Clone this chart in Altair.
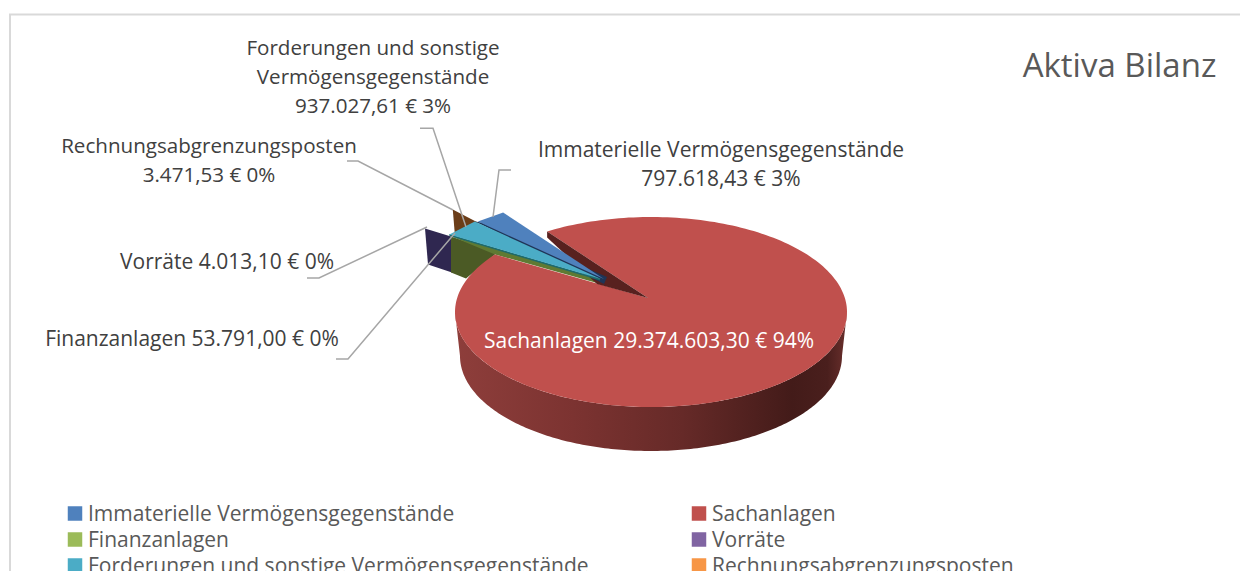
import math
import altair as alt
import pandas as pd

# --- values ---------------------------------------------------------------
CATEGORIES = ["Immaterielle Vermögensgegenstände", "Sachanlagen", "Finanzanlagen",
              "Vorräte", "Forderungen und sonstige Vermögensgegenstände",
              "Rechnungsabgrenzungsposten"]
VALUES = [797618.43, 29374603.30, 53791.00, 4013.10, 937027.61, 3471.53]
COLORS = ["#4f81bd", "#c0504d", "#9bbb59", "#8064a2", "#4bacc6", "#f79646"]
TITLE = "Aktiva Bilanz"

TOTAL = sum(VALUES)


def de(v):
    return f"{v:,.2f}".replace(",", "X").replace(".", ",").replace("X", ".")


def tail(i):
    return f"{de(VALUES[i])} € {round(100 * VALUES[i] / TOTAL)}%"


# --- 3-D pie geometry: slice angles come from the values -------------------
CX, CY, RX, RY = 651.0, 312.0, 196.0, 95.0
BX, BY, BRX, BRY = 651.0, 356.0, 191.0, 95.0
APEX = (648.0, 298.0)
START = 58.0 - 360 * VALUES[0] / TOTAL
EXPL = (-47.0, -19.0)

bounds = [START]
for v in VALUES:
    bounds.append(bounds[-1] + 360 * v / TOTAL)


def rim(t, dx=0.0, dy=0.0):
    a = math.radians(t)
    return (CX - RX * math.cos(a) + dx, CY - RY * math.sin(a) + dy)


def wedge(i, dx, dy):
    return [(APEX[0] + dx, APEX[1] + dy), rim(bounds[i], dx, dy), rim(bounds[i + 1], dx, dy)]


def feature(points, color):
    ring = [list(p) for p in points] + [list(points[0])]
    return {"type": "Feature", "geometry": {"type": "Polygon", "coordinates": [ring]},
            "properties": {"color": color}}


A = rim(bounds[1])
B = rim(bounds[2])
gc = rim(bounds[2], *EXPL)     # outer corner of the small slices
cl = rim(bounds[4], *EXPL)     # lower corner of the cyan slice
cc = rim(bounds[5], *EXPL)
ap = (APEX[0] + EXPL[0], APEX[1] + EXPL[1])

back = [
    # purple outer wall
    feature([(gc[0] + 3, gc[1] + 1), (gc[0] - 23, gc[1] - 7), (gc[0] - 20, gc[1] + 29), (gc[0] + 4, gc[1] + 37)], "#2f2750"),
    # green wall
    feature([(gc[0] + 3, gc[1] + 1), (gc[0] + 44, gc[1] + 15), B, (gc[0] + 18, gc[1] + 43), (gc[0] + 3, gc[1] + 37)], "#4b5a25"),
    # olive band between the cyan slice and the red cut
    feature([(cl[0], cl[1] + 1), ap, (APEX[0] - 51, APEX[1] - 15), B], "#5f7a33"),
    # brown wall
    feature([(cc[0] + 3, cc[1] + 1), (cc[0] - 22, cc[1] - 12), (cc[0] - 20, cc[1] + 12)], "#6b3d18"),
]

side_pts = []
for k in range(0, 181):
    a = math.radians(k)
    side_pts.append((CX - RX * math.cos(a), CY + RY * math.sin(a)))
for k in range(180, -1, -1):
    a = math.radians(k)
    side_pts.append((BX - BRX * math.cos(a), BY + BRY * math.sin(a)))
side = [feature(side_pts, "#7a3230")]

steps = 240
top_pts = [APEX] + [rim(bounds[1] + (bounds[2] - bounds[1]) * k / steps) for k in range(steps + 1)]
front = [
    feature(top_pts, COLORS[1]),
    # inner dark wall of the cut
    feature([A, (A[0], A[1] + 6), (APEX[0] - 51, APEX[1] - 14), APEX], "#58211f"),
    # navy wall below the blue slice
    feature([cc, (cc[0] + 7, cc[1] + 1), (ap[0] + 6, ap[1] - 2), (ap[0] + 3, ap[1] + 5), (ap[0] - 3, ap[1] + 2)], "#1f3557"),
    feature(wedge(0, EXPL[0] + 3, EXPL[1]), COLORS[0]),
    # dark teal edge below the cyan slice
    feature([(cl[0], cl[1] - 0.5), (ap[0] - 1, ap[1] - 0.5), (ap[0] - 1, ap[1] + 1.5), (cl[0], cl[1] + 1.5)], "#1f6a6a"),
    feature(wedge(4, *EXPL), COLORS[4]),
]

# --- projection: planar, one unit = one page pixel --------------------------
PROJ = dict(type="identity", scale=1, translate=[-8, -8])


def shapes(feats):
    return (alt.Chart(alt.Data(values=feats))
            .mark_geoshape(strokeWidth=0)
            .encode(color=alt.Color("properties.color:N", scale=None))
            .project(**PROJ))


side_grad = alt.Gradient(gradient="linear", x1=0, x2=1, y1=0, y2=0, stops=[
    alt.GradientStop(color="#8e3e3b", offset=0),
    alt.GradientStop(color="#7c3331", offset=0.3),
    alt.GradientStop(color="#662a28", offset=0.58),
    alt.GradientStop(color="#431b19", offset=0.86),
    alt.GradientStop(color="#4a1f1d", offset=0.95),
    alt.GradientStop(color="#6a2f2c", offset=1),
])
side_layer = (alt.Chart(alt.Data(values=side)).mark_geoshape(fill=side_grad, strokeWidth=0)
              .project(**PROJ))

# --- frame and leader lines -------------------------------------------------
frame = pd.DataFrame({"lon": [10, 10, 1248], "lat": [571, 14.5, 14.5], "o": [0, 1, 2]})
frame_layer = (alt.Chart(frame).mark_line(color="#d9d9d9", strokeWidth=2)
               .encode(longitude="lon:Q", latitude="lat:Q", order="o:Q").project(**PROJ))

leaders = pd.DataFrame([
    ("a", 420, 128.3, 0), ("a", 433, 128.3, 1), ("a", 466, 227, 2),
    ("b", 347, 161, 0), ("b", 358, 161, 1), ("b", 453, 210, 2),
    ("c", 307, 278, 0), ("c", 319, 278, 1), ("c", 427, 227, 2),
    ("d", 336, 359, 0), ("d", 348, 359, 1), ("d", 455, 233, 2),
    ("e", 511, 170, 0), ("e", 499, 170, 1), ("e", 493, 217, 2),
], columns=["g", "lon", "lat", "o"])
leader_layer = (alt.Chart(leaders).mark_line(color="#a6a6a6", strokeWidth=1.5)
                .encode(longitude="lon:Q", latitude="lat:Q", detail="g:N", order="o:Q").project(**PROJ))

# --- labels -------------------------------------------------------------------
FONT = "Open Sans"
labels = pd.DataFrame([
    ("Forderungen und sonstige", 373, 49, 20.6),
    ("Vermögensgegenstände", 373, 78, 20.6),
    (tail(4), 373, 107, 20.6),
    ("Rechnungsabgrenzungsposten", 209, 147, 20.6),
    (tail(5), 209, 176, 20.6),
    ("Vorräte " + tail(3), 227, 263, 21),
    ("Finanzanlagen " + tail(2), 192, 340, 21),
    (CATEGORIES[0], 721, 151, 21),
    (tail(0), 721, 180, 21),
], columns=["t", "lon", "lat", "fs"])
label_layer = (alt.Chart(labels).mark_text(font=FONT, color="#404040", align="center", baseline="middle")
               .encode(longitude="lon:Q", latitude="lat:Q", text="t:N",
                       size=alt.Size("fs:Q", scale=None)).project(**PROJ))

white = pd.DataFrame({"t": ["Sachanlagen " + tail(1)], "lon": [649], "lat": [342]})
white_layer = (alt.Chart(white).mark_text(font=FONT, fontSize=21, color="#ffffff", align="center", baseline="middle")
               .encode(longitude="lon:Q", latitude="lat:Q", text="t:N").project(**PROJ))

title = pd.DataFrame({"t": [TITLE], "lon": [1119.5], "lat": [67]})
title_layer = (alt.Chart(title).mark_text(font=FONT, fontSize=33, color="#595959", align="center", baseline="middle")
               .encode(longitude="lon:Q", latitude="lat:Q", text="t:N").project(**PROJ))

# --- legend --------------------------------------------------------------------
COL_X = [75, 699]
ROW_Y = [513.5, 539.5, 565.5]
leg = pd.DataFrame([
    {"t": c, "col": COLORS[i], "lon": COL_X[i % 2], "lat": ROW_Y[i // 2], "tx": COL_X[i % 2] + 13}
    for i, c in enumerate(CATEGORIES)
])
leg_sw = (alt.Chart(leg).mark_square(size=210, opacity=1)
          .encode(longitude="lon:Q", latitude="lat:Q", color=alt.Color("col:N", scale=None)).project(**PROJ))
leg_tx = (alt.Chart(leg).mark_text(font=FONT, fontSize=21, color="#595959", align="left", baseline="middle", dy=1)
          .encode(longitude="tx:Q", latitude="lat:Q", text="t:N").project(**PROJ))

chart = (alt.layer(frame_layer, shapes(back), side_layer, shapes(front), leader_layer,
                   label_layer, white_layer, title_layer, leg_sw, leg_tx)
         .properties(width=1232, height=563, padding=0, autosize=alt.AutoSizeParams(type="none"),
                     background="#ffffff")
         .configure_view(stroke=None))

chart.save("out.html", embed_options={"renderer": "svg", "actions": False})
